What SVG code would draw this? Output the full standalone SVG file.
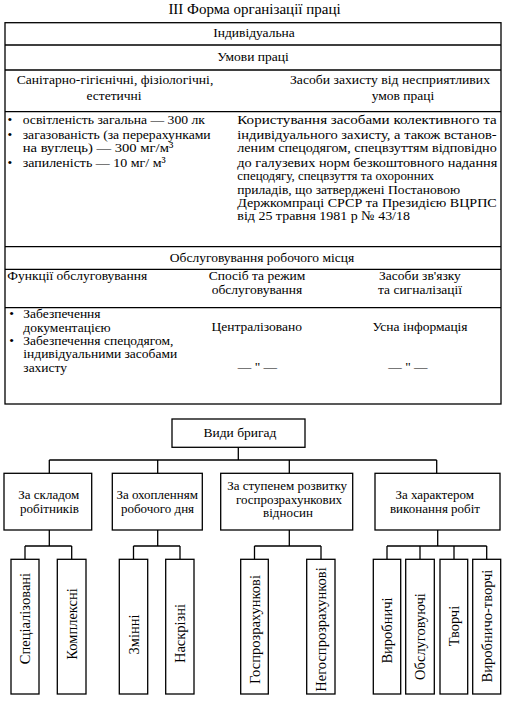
<svg xmlns="http://www.w3.org/2000/svg" width="508" height="703" viewBox="0 0 508 703">
<style>
text{font-family:"Liberation Serif","Times New Roman",serif;font-size:13.5px;fill:#000}
.c{text-anchor:middle}
.t{font-size:13px}
.leaf{font-size:14.5px;text-anchor:middle}
.box{fill:#fff;stroke:#000;stroke-width:1.3}
.ln{fill:none;stroke:#000;stroke-width:1.3}
</style>
<rect width="508" height="703" fill="#fff"/>
<text id="title" class="c" x="254.5" y="14" style="font-size:15px">III  Форма організації праці</text>

<g id="table">
<rect class="box" x="5" y="22.7" width="496" height="381.3"/>
<path class="ln" d="M5 45H501M5 70H501M5 111.7H501M5 246.7H501M5 269.3H501M5 307.7H501"/>
<text class="c" x="254" y="36.5">Індивідуальна</text>
<text class="c" x="253" y="61">Умови праці</text>
<text class="c" x="115" y="83.5" textLength="196.6" lengthAdjust="spacingAndGlyphs">Санітарно-гігієнічні, фізіологічні,</text>
<text class="c" x="114" y="100">естетичні</text>
<text class="c" x="390" y="83.5" textLength="200" lengthAdjust="spacingAndGlyphs">Засоби захисту від несприятливих</text>
<text class="c" x="403" y="100">умов праці</text>

<g id="hygiene">
<text x="7.5" y="123.5">•</text>
<text x="22.7" y="123.5" textLength="182.3" lengthAdjust="spacingAndGlyphs">освітленість загальна — 300 лк</text>
<text x="7.5" y="138.5">•</text>
<text x="22.7" y="138.5" textLength="188" lengthAdjust="spacingAndGlyphs">загазованість (за перерахунками</text>
<text x="22.7" y="151.8" textLength="150.6" lengthAdjust="spacingAndGlyphs">на вуглець) — 300 мг/м³</text>
<text x="7.5" y="166.8">•</text>
<text x="22.7" y="166.8" textLength="143" lengthAdjust="spacingAndGlyphs">запиленість — 10 мг/ м³</text>
</g>
<g id="protection">
<text x="237.3" y="123.5" textLength="259.4" lengthAdjust="spacingAndGlyphs">Користування засобами колективного та</text>
<text x="237.3" y="138.5" textLength="259.4" lengthAdjust="spacingAndGlyphs">індивідуального захисту, а також встанов-</text>
<text x="237.3" y="151.8" textLength="259.4" lengthAdjust="spacingAndGlyphs">леним спецодягом, спецвзуттям відповідно</text>
<text x="237.3" y="166.8" textLength="260" lengthAdjust="spacingAndGlyphs">до галузевих норм безкоштовного надання</text>
<text x="237.3" y="180.2" textLength="196.7" lengthAdjust="spacingAndGlyphs">спецодягу, спецвзуття та охоронних</text>
<text x="237.3" y="193.5" textLength="222.7" lengthAdjust="spacingAndGlyphs">приладів, що затверджені Постановою</text>
<text x="237.3" y="206.8" textLength="259.4" lengthAdjust="spacingAndGlyphs">Держкомпраці СРСР та Президією ВЦРПС</text>
<text x="237.3" y="220.2" textLength="172.7" lengthAdjust="spacingAndGlyphs">від 25 травня 1981 р  № 43/18</text>
</g>

<text class="c" x="262" y="261.5">Обслуговування робочого місця</text>
<text x="7.3" y="280">Функції обслуговування</text>
<text class="c" x="257" y="280">Спосіб та режим</text>
<text class="c" x="257" y="293.5">обслуговування</text>
<text class="c" x="420" y="280">Засоби зв'язку</text>
<text class="c" x="420" y="293.5">та сигналізації</text>

<g id="functions">
<text x="9.3" y="318">•</text>
<text x="23.3" y="318">Забезпечення</text>
<text x="23.3" y="331.5">документацією</text>
<text x="9.3" y="344.5">•</text>
<text x="23.3" y="344.5">Забезпечення спецодягом,</text>
<text x="23.3" y="358">індивідуальними засобами</text>
<text x="23.3" y="371.5">захисту</text>
</g>
<text class="c" x="256.7" y="331">Централізовано</text>
<text class="c" x="420" y="331">Усна інформація</text>
<text class="c" x="257.5" y="371">— " —</text>
<text class="c" x="408" y="371">— " —</text>
</g>

<g id="connectors">
<path class="ln" d="M238.3 447.3V460M49.3 460H436.7M49.3 460V473.3M157.7 460V473.3M289.3 460V473.3M436.7 460V473.3"/>
<path class="ln" d="M49.3 530V546M25 546H71.7M25 546V559.3M71.7 546V559.3"/>
<path class="ln" d="M157.7 530V546M133.5 546H180M133.5 546V559.3M180 546V559.3"/>
<path class="ln" d="M289.3 530V546M254.5 546H321M254.5 546V559.3M321 546V559.3"/>
<path class="ln" d="M437.7 530V546M387 546H486.7M387 546V559.3M420 546V559.3M454 546V559.3M486.7 546V559.3"/>
</g>

<g id="root">
<rect class="box" x="172" y="419" width="133" height="28.3"/>
<text class="c" x="240" y="436.5">Види бригад</text>
</g>
<g id="n1">
<rect class="box" x="4" y="473.3" width="87.7" height="56.7"/>
<text class="c t" x="48.8" y="499">За складом</text>
<text class="c t" x="49.5" y="512.5">робітників</text>
</g>
<g id="n2">
<rect class="box" x="112.3" y="473.3" width="90" height="56.7"/>
<text class="c t" x="157.2" y="499">За охопленням</text>
<text class="c t" x="157.5" y="512.5">робочого дня</text>
</g>
<g id="n3">
<rect class="box" x="220.7" y="473.3" width="132" height="56.7"/>
<text class="c t" x="287.2" y="490">За ступенем розвитку</text>
<text class="c t" x="289" y="503.5">госпрозрахункових</text>
<text class="c t" x="288" y="517">відносин</text>
</g>
<g id="n4">
<rect class="box" x="375" y="473.3" width="125" height="56.7"/>
<text class="c t" x="434.7" y="499">За характером</text>
<text class="c t" x="435" y="512.5">виконання робіт</text>
</g>

<g id="l1"><rect class="box" x="11" y="559.3" width="28" height="134.7"/><text class="leaf" transform="translate(25,618.5) rotate(-90)" dy="0.35em">Спеціалізовані</text></g>
<g id="l2"><rect class="box" x="57.3" y="559.3" width="28.7" height="134.7"/><text class="leaf" transform="translate(71.7,624) rotate(-90)" dy="0.35em">Комплексні</text></g>
<g id="l3"><rect class="box" x="119.3" y="559.3" width="28.4" height="134.7"/><text class="leaf" transform="translate(133.5,634.5) rotate(-90)" dy="0.35em">Змінні</text></g>
<g id="l4"><rect class="box" x="165.7" y="559.3" width="28.3" height="134.7"/><text class="leaf" transform="translate(180,633.5) rotate(-90)" dy="0.35em">Наскрізні</text></g>
<g id="l5"><rect class="box" x="240.7" y="559.3" width="27.6" height="134.7"/><text class="leaf" transform="translate(254.5,629.5) rotate(-90)" dy="0.35em">Госпрозрахункові</text></g>
<g id="l6"><rect class="box" x="306.7" y="559.3" width="28.3" height="134.7"/><text class="leaf" transform="translate(321,629.5) rotate(-90)" dy="0.35em">Негоспрозрахункові</text></g>
<g id="l7"><rect class="box" x="373.3" y="559.3" width="27.4" height="134.7"/><text class="leaf" transform="translate(387,630.5) rotate(-90)" dy="0.35em">Виробничі</text></g>
<g id="l8"><rect class="box" x="405.7" y="559.3" width="28.6" height="134.7"/><text class="leaf" transform="translate(420,636.5) rotate(-90)" dy="0.35em">Обслуговуючі</text></g>
<g id="l9"><rect class="box" x="440" y="559.3" width="27.7" height="134.7"/><text class="leaf" transform="translate(453.9,626) rotate(-90)" dy="0.35em">Творчі</text></g>
<g id="l10"><rect class="box" x="472.7" y="559.3" width="28" height="134.7"/><text class="leaf" transform="translate(486.7,626) rotate(-90)" dy="0.35em">Виробничо-творчі</text></g>
</svg>
